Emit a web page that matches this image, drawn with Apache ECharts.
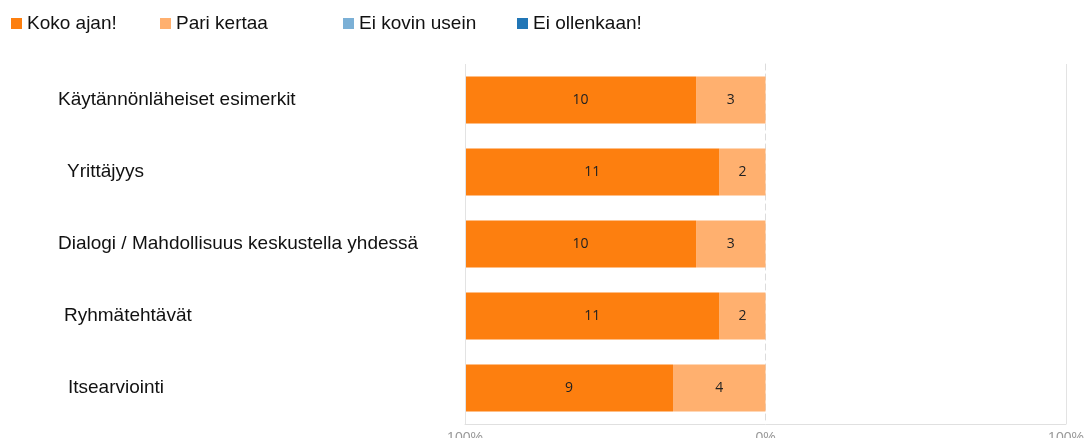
<!DOCTYPE html>
<html>
<head>
<meta charset="utf-8">
<script src="https://cdn.jsdelivr.net/npm/echarts@6/dist/echarts.min.js"></script>
<style>html,body{margin:0;padding:0;background:#fff}#c{width:1087px;height:438px}</style>
</head>
<body>
<div id="c"></div>
<script>
const categories = ["Käytännönläheiset esimerkit", "Yrittäjyys", "Dialogi / Mahdollisuus keskustella yhdessä", "Ryhmätehtävät", "Itsearviointi"];
const seriesNames = ["Koko ajan!", "Pari kertaa", "Ei kovin usein", "Ei ollenkaan!"];
const kokoAjan = [10, 11, 10, 11, 9];
const pariKertaa = [3, 2, 3, 2, 4];
const eiKovinUsein = [0, 0, 0, 0, 0];
const eiOllenkaan = [0, 0, 0, 0, 0];
const axisTicks = [-100, 0, 100];

const totals = categories.map((_, i) => kokoAjan[i] + pariKertaa[i] + eiKovinUsein[i] + eiOllenkaan[i]);
const pct = (arr, sign) => arr.map((v, i) => sign * v / totals[i] * 100);

const colors = {"Koko ajan!": "#fd7f0f", "Pari kertaa": "#ffb06f", "Ei kovin usein": "#7bb0d6", "Ei ollenkaan!": "#2176b6"};
const counts = {"Koko ajan!": kokoAjan, "Pari kertaa": pariKertaa, "Ei kovin usein": eiKovinUsein, "Ei ollenkaan!": eiOllenkaan};

// per-label indentation seen in the reference
const labelIndent = [0, 9, 0, 6, 10];
const rich = {};
labelIndent.forEach((p, i) => { rich['i' + i] = {padding: [0, 0, 0, p], fontSize: 19, fontFamily: 'Liberation Sans', color: '#111'}; });

const labelCfg = {
  show: true, position: 'inside', color: '#222', fontSize: 14, fontFamily: 'Open Sans',
  formatter: p => { const c = counts[p.seriesName][p.dataIndex]; return c ? String(c) : ''; }
};
function bar(name, data) {
  return {name, type: 'bar', stack: 'all', data, barCategoryGap: '35%',
    itemStyle: {color: colors[name]}, label: labelCfg, emphasis: {disabled: true}};
}
const legendLefts = [11, 160, 343, 517];
const legends = seriesNames.map((n, i) => ({
  data: [n], left: legendLefts[i], top: 14, padding: 0, itemWidth: 11, itemHeight: 11, itemGap: 10,
  icon: 'rect', textStyle: {fontSize: 19, fontFamily: 'Liberation Sans', color: '#111'}, selectedMode: false
}));

const chart = echarts.init(document.getElementById('c'), null, {renderer: 'canvas'});
const kokoSeries = bar("Koko ajan!", pct(kokoAjan, -1));
kokoSeries.markLine = {silent: true, symbol: 'none', label: {show: false},
  lineStyle: {color: '#e3e3e3', type: 'solid', width: 1},
  data: [{xAxis: axisTicks[0]}, {xAxis: axisTicks[2]}]};
chart.setOption({
  animation: false,
  color: seriesNames.map(n => colors[n]),
  legend: legends,
  grid: {left: 465, right: 21, top: 64, bottom: 14, containLabel: false, outerBoundsMode: 'none'},
  xAxis: {type: 'value', min: axisTicks[0], max: axisTicks[2], interval: 100,
    axisLine: {show: true, lineStyle: {color: '#e0e0e0'}},
    axisTick: {show: false}, splitLine: {show: false},
    axisLabel: {formatter: v => Math.abs(v) + '%', color: '#9a9a9a', fontSize: 14, fontFamily: 'Liberation Sans', margin: 7}},
  yAxis: {type: 'category', data: categories, inverse: true,
    axisLine: {show: true, onZero: true, lineStyle: {color: '#dcdcdc', type: [6, 4]}},
    axisTick: {show: false},
    axisLabel: {align: 'left', margin: 407, color: '#111', fontSize: 19, fontFamily: 'Liberation Sans',
      formatter: (v, i) => '{i' + i + '|' + v + '}', rich}},
  series: [
    bar("Pari kertaa", pct(pariKertaa, -1)),
    kokoSeries,
    bar("Ei kovin usein", pct(eiKovinUsein, 1)),
    bar("Ei ollenkaan!", pct(eiOllenkaan, 1))
  ]
});
</script>
</body>
</html>
